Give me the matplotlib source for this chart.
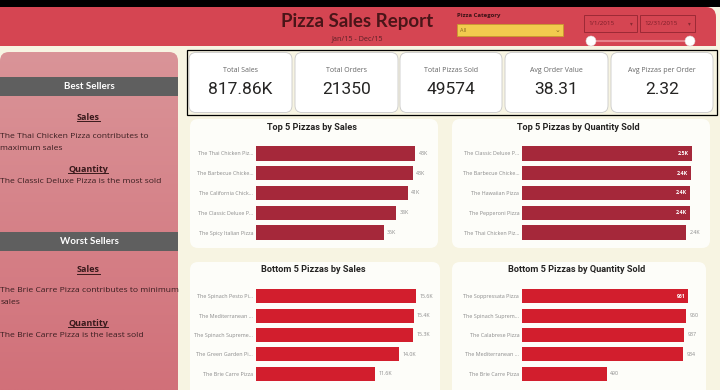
import matplotlib
matplotlib.use("Agg")
import matplotlib.pyplot as plt
from matplotlib.patches import FancyBboxPatch, Rectangle, Circle
import numpy as np

# ---------------- data ----------------
kpi_labels = ["Total Sales", "Total Orders", "Total Pizzas Sold", "Avg Order Value", "Avg Pizzas per Order"]
kpi_values = ["817.86K", "21350", "49574", "38.31", "2.32"]

top_sales_names = ["The Thai Chicken Piz...", "The Barbecue Chicke...", "The California Chick...",
                   "The Classic Deluxe P...", "The Spicy Italian Pizza"]
top_sales_values = [43434, 42768, 41410, 38180, 34831]

top_qty_names = ["The Classic Deluxe P...", "The Barbecue Chicke...", "The Hawaiian Pizza",
                 "The Pepperoni Pizza", "The Thai Chicken Piz..."]
top_qty_values = [2453, 2432, 2422, 2418, 2371]

bottom_sales_names = ["The Spinach Pesto Pi...", "The Mediterranean ...", "The Spinach Supreme...",
                      "The Green Garden Pi...", "The Brie Carre Pizza"]
bottom_sales_values = [15596, 15360, 15278, 13956, 11589]

bottom_qty_names = ["The Soppressata Pizza", "The Spinach Suprem...", "The Calabrese Pizza",
                    "The Mediterranean ...", "The Brie Carre Pizza"]
bottom_qty_values = [961, 950, 937, 934, 490]

# ---------------- layout helpers ----------------
W, H = 720, 390
plt.rcParams['font.family'] = ['Open Sans', 'DejaVu Sans']
fig = plt.figure(figsize=(W / 100, H / 100), dpi=100)
fig.patch.set_facecolor('#F7F4E2')

bg = fig.add_axes([0, 0, 1, 1])
bg.set_xlim(0, W)
bg.set_ylim(H, 0)
bg.axis('off')


def frac(x0, y0, x1, y1):
    return [x0 / W, 1 - y1 / H, (x1 - x0) / W, (y1 - y0) / H]


def rbox(x0, y0, x1, y1, r, fc, ec='none', lw=0, z=1):
    p = FancyBboxPatch((x0, y0), x1 - x0, y1 - y0, boxstyle=f"round,pad=0,rounding_size={r}",
                       fc=fc, ec=ec, lw=lw, zorder=z)
    bg.add_patch(p)
    return p


RED = '#D54552'
# top black strip + header
bg.add_patch(Rectangle((0, 0), W, 7, fc='black', zorder=0))
rbox(-20, 7, 716, 70, 10, RED, z=1)
bg.add_patch(Rectangle((0, 46), W, H, fc='#F7F4E2', zorder=2))

bg.text(357, 22, "Pizza Sales Report", ha='center', va='center', fontsize=13.5,
        fontweight='bold', color='#4A1518', family=['Lato', 'DejaVu Sans'], zorder=5)
bg.text(357, 38.5, "Jan/15 - Dec/15", ha='center', va='center', fontsize=5.2,
        color='#5A2026', zorder=5)

# category slicer
bg.text(457, 16, "Pizza Category", ha='left', va='center', fontsize=4.3, fontweight='bold',
        color='#3A1215', zorder=5)
bg.add_patch(Rectangle((457, 23.5), 106, 12.5, fc='#F2CB4E', ec='#C79A2E', lw=0.6, zorder=5))
bg.text(460, 30, "All", ha='left', va='center', fontsize=4, color='#8A6A20', zorder=6)
bg.text(558, 29.5, "\u2304", ha='center', va='center', fontsize=5, color='#8A6A20',
        family='DejaVu Sans', zorder=6)

# date slicer
for (dx0, dx1, txt) in [(584, 637, "1/1/2015"), (640, 695, "12/31/2015")]:
    bg.add_patch(Rectangle((dx0, 15), dx1 - dx0, 17, fc='none', ec='#9C2A36', lw=0.7, zorder=5))
    bg.text(dx0 + 4, 23.5, txt, ha='left', va='center', fontsize=4.5, color='#7A1E28', zorder=6)
    bg.text(dx1 - 6, 23.5, "\u25BE", ha='center', va='center', fontsize=4, color='#8A2A32',
            family='DejaVu Sans', zorder=6)
bg.plot([591, 690], [41, 41], color='#E7848C', lw=1.5, zorder=5, solid_capstyle='round')
for cx in (591, 690):
    bg.add_patch(Circle((cx, 41), 5, fc='white', ec='#E0D0D0', lw=0.4, zorder=6))

# left panel with vertical gradient
panel = rbox(0, 52, 178, 420, 9, 'none', z=3)
top_c = np.array([218, 148, 152]) / 255
bot_c = np.array([209, 112, 121]) / 255
tgrad = np.linspace(0, 1, 256)[:, None]
grad = (top_c[None, :] * (1 - tgrad) + bot_c[None, :] * tgrad)[:, None, :]
im = bg.imshow(grad, extent=(0, 178, 390, 52), aspect='auto', zorder=3, interpolation='bilinear')
im.set_clip_path(panel)
bg.set_xlim(0, W)
bg.set_ylim(H, 0)


def underlined(x, y, s, size):
    t = bg.text(x, y, s, ha='center', va='center', fontsize=size, fontweight='bold',
                color='#3A1A1C', zorder=6)
    return t


under_texts = []
TXT = 6.1
for (by, title, sy, lines, qy, qline) in [
        (77, "Best Sellers", 117, ["The Thai Chicken Pizza contributes to", "maximum sales"], 169,
         "The Classic Deluxe Pizza is the most sold"),
        (232, "Worst Sellers", 270, ["The Brie Carre Pizza contributes to minimum", "sales"], 323,
         "The Brie Carre Pizza is the least sold")]:
    bg.add_patch(Rectangle((0, by), 178, 19, fc='#5F5F5F', zorder=4))
    bg.text(89, by + 9.5, title, ha='center', va='center', fontsize=7, fontweight='bold',
            color='white', family=['Lato', 'DejaVu Sans'], zorder=6)
    under_texts.append(underlined(88, sy, "Sales", 6.5))
    bg.text(0.5, sy + 20, lines[0], ha='left', va='center', fontsize=TXT, color='#3A1E20', zorder=6)
    bg.text(0.5, sy + 32, lines[1], ha='left', va='center', fontsize=TXT, color='#3A1E20', zorder=6)
    under_texts.append(underlined(88, qy, "Quantity", 6.5))
    bg.text(0.5, qy + 12.5, qline, ha='left', va='center', fontsize=TXT, color='#3A1E20', zorder=6)

# KPI strip
bg.add_patch(Rectangle((187, 50), 530, 65, fc='none', ec='black', lw=0.9, zorder=5))
cards = [(189, 292), (295, 398), (400, 502), (505, 608), (611, 713)]
for (cx0, cx1), lab, val in zip(cards, kpi_labels, kpi_values):
    rbox(cx0, 52.5, cx1, 112.5, 7, 'white', ec='#C9C9C9', lw=0.6, z=4)
    cx = (cx0 + cx1) / 2
    bg.text(cx, 71, lab, ha='center', va='center', fontsize=5, color='#666666', zorder=6)
    bg.text(cx, 90, val, ha='center', va='center', fontsize=12.5, color='#252423',
            family=['Roboto', 'DejaVu Sans'], zorder=6)

# chart panels
panels = [(190, 119, 438, 248), (452, 119, 710, 248), (190, 262, 440, 400), (452, 262, 706, 400)]
for (p0, p1, p2, p3) in panels:
    rbox(p0, p1, p2, p3, 8, '#FDFDF9', z=3)

TOP_RED = '#A5283A'
BOT_RED = '#D21E2D'


def bar_chart(rect, names, values, color, fmt, inside, bar_end, title, title_xy):
    x0, y0, x1, y1 = rect
    ax = fig.add_axes(frac(x0, y0, x1, y1))
    ax.set_zorder(10)
    ypos = np.arange(len(values))
    ax.barh(ypos, values, height=0.72, color=color)
    ax.set_ylim(len(values) - 0.5, -0.5)
    xmax = max(values) * (x1 - x0) / (bar_end - x0)
    ax.set_xlim(0, xmax)
    ax.set_yticks(ypos, names, fontsize=3.9, color='#8A8A8A')
    ax.tick_params(axis='y', length=0, pad=2)
    ax.set_xticks([])
    for s in ax.spines.values():
        s.set_visible(False)
    ax.patch.set_alpha(0)
    for yy, v, ins in zip(ypos, values, inside):
        if ins:
            ax.annotate(fmt(v), (v, yy), xytext=(-2, 0), textcoords='offset points',
                        ha='right', va='center', fontsize=3.8, color='white', fontweight='bold')
        else:
            ax.annotate(fmt(v), (v, yy), xytext=(2.5, 0), textcoords='offset points',
                        ha='left', va='center', fontsize=3.8, color='#8A8A8A')
    bg.text(title_xy[0], title_xy[1], title, ha='center', va='center', fontsize=6.6,
            fontweight='bold', color='#252423', family=['Roboto', 'DejaVu Sans'], zorder=8)
    return ax


bar_chart((256, 143.6, 436, 242.4), top_sales_names, top_sales_values, TOP_RED,
          lambda v: f"{v / 1000:.0f}K", [False] * 5, 415, "Top 5 Pizzas by Sales", (312, 128))
bar_chart((522, 143.6, 705, 242.4), top_qty_names, top_qty_values, TOP_RED,
          lambda v: f"{v / 1000:.1f}K", [True, True, True, True, False], 692,
          "Top 5 Pizzas by Quantity Sold", (578, 128))
bar_chart((256, 286.3, 436, 383.7), bottom_sales_names, bottom_sales_values, BOT_RED,
          lambda v: f"{v / 1000:.1f}K", [False] * 5, 416, "Bottom 5 Pizzas by Sales", (313, 270))
bar_chart((522, 286.3, 705, 383.7), bottom_qty_names, bottom_qty_values, BOT_RED,
          lambda v: f"{v:.0f}", [True, False, False, False, False], 688,
          "Bottom 5 Pizzas by Quantity Sold", (577, 270))

# underline the section headings
fig.canvas.draw()
r = fig.canvas.get_renderer()
inv = bg.transData.inverted()
for t in under_texts:
    bb = t.get_window_extent(renderer=r)
    (ax0, ay0), (ax1, ay1) = inv.transform([[bb.x0, bb.y0], [bb.x1, bb.y1]])
    ybot = max(ay0, ay1) - 0.5
    bg.plot([ax0, ax1], [ybot, ybot], color='#3A1A1C', lw=0.7, zorder=6)

fig.savefig("out.png", dpi=100, facecolor=fig.get_facecolor())
